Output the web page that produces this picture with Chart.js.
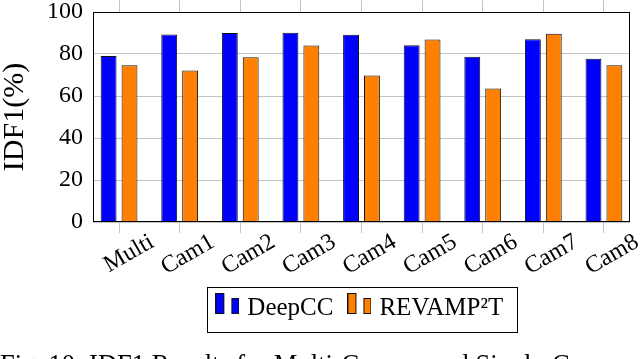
<!DOCTYPE html>
<html>
<head>
<meta charset="utf-8">
<script src="https://cdn.jsdelivr.net/npm/chart.js@4/dist/chart.umd.min.js"></script>
<style>
  html, body { margin: 0; padding: 0; background: #fff; overflow: hidden; }
  #wrap { position: relative; width: 640px; height: 359px; overflow: hidden; }
  #c { position: absolute; left: 0; top: 0; }
  #cap { position: absolute; left: 0; top: 351px; font-family: 'Liberation Serif', serif; font-size: 26.5px; line-height: 27px; white-space: nowrap; color: #000; }
</style>
</head>
<body>
<div id="wrap">
  <canvas id="c" width="640" height="359"></canvas>
  <div id="cap">Fig. 10: IDF1 Results for Multi-Camera and Single-Camera</div>
</div>
<script>
const categories = ['Multi', 'Cam1', 'Cam2', 'Cam3', 'Cam4', 'Cam5', 'Cam6', 'Cam7', 'Cam8'];
const deepCC = [79.0, 89.3, 90.0, 90.1, 89.2, 84.2, 78.7, 87.0, 77.7];
const revamp2T = [74.7, 72.2, 78.5, 84.1, 69.8, 86.9, 63.6, 89.6, 74.7];
const seriesNames = ['DeepCC', 'REVAMP\u00B2T'];
const yTicks = [0, 20, 40, 60, 80, 100];

const BLUE = '#0000ff', ORANGE = '#ff8000', GRID = '#c4c4c4';
Chart.defaults.font.family = "'Liberation Serif', 'Times New Roman', serif";
Chart.defaults.color = '#000';

function makeMarker(fill) {
  const c = document.createElement('canvas');
  c.width = 24; c.height = 30;
  const g = c.getContext('2d');
  g.fillStyle = fill; g.strokeStyle = '#111'; g.lineWidth = 1;
  g.fillRect(0.5, 0.5, 8, 20); g.strokeRect(0.5, 0.5, 8, 20);
  g.fillRect(16.5, 5.5, 7, 15); g.strokeRect(16.5, 5.5, 7, 15);
  return c;
}
const markers = [makeMarker(BLUE), makeMarker(ORANGE)];

function shiftCategory(scale) {
  scale._startValue = -0.43;
  scale._valueRange = (categories.length - 1) + 0.86;
}

const framePlugin = {
  id: 'frame',
  afterDraw(chart) {
    const a = chart.chartArea, ctx = chart.ctx;
    ctx.save();
    ctx.strokeStyle = '#000'; ctx.lineWidth = 1;
    ctx.strokeRect(Math.round(a.left) + 0.5, Math.round(a.top) + 0.5,
                   Math.round(a.right - a.left) - 1, Math.round(a.bottom - a.top) - 1);
    const lg = chart.legend;
    if (lg && lg.legendHitBoxes && lg.legendHitBoxes.length) {
      const hb = lg.legendHitBoxes;
      const first = hb[0], last = hb[hb.length - 1];
      const l = Math.round(first.left - 12.5) + 0.5;
      const r = Math.round(last.left + last.width + 14) + 0.5;
      const t = Math.round(first.top - 8.5) + 0.5;
      const b = Math.round(first.top + 36.5) + 0.5;
      ctx.strokeRect(l, t, r - l, b - t);
    }
    ctx.restore();
  }
};

new Chart(document.getElementById('c'), {
  type: 'bar',
  data: {
    labels: categories,
    datasets: [
      { label: seriesNames[0], data: deepCC, backgroundColor: BLUE, borderColor: '#111', borderWidth: 1 },
      { label: seriesNames[1], data: revamp2T, backgroundColor: ORANGE, borderColor: '#111', borderWidth: 1 }
    ]
  },
  options: {
    responsive: false,
    animation: false,
    devicePixelRatio: 1,
    layout: { padding: { top: 0, right: 10, bottom: 28.5, left: 0 } },
    datasets: { bar: { categoryPercentage: 0.69, barPercentage: 0.76 } },
    plugins: {
      tooltip: { enabled: false },
      legend: {
        position: 'bottom',
        fullSize: false,
        labels: {
          usePointStyle: true,
          pointStyleWidth: 15,
          padding: 18.5,
          font: { size: 25 },
          color: '#000',
          generateLabels(chart) {
            return chart.data.datasets.map((ds, i) => ({
              text: ds.label, pointStyle: markers[i], datasetIndex: i,
              fillStyle: ds.backgroundColor, strokeStyle: '#111', lineWidth: 1, hidden: false, fontColor: '#000'
            }));
          }
        }
      }
    },
    scales: {
      x: {
        type: 'category',
        position: 'bottom',
        offset: true,
        afterBuildTicks: shiftCategory,
        afterFit(s) { s.height = 55; },
        grid: { offset: false, drawOnChartArea: false, drawTicks: true, tickLength: 11, color: GRID },
        border: { display: false },
        ticks: { font: { size: 24, lineHeight: 1 }, minRotation: 30, maxRotation: 30, padding: -3, labelOffset: 33, autoSkip: false, color: '#000' }
      },
      x2: {
        type: 'category',
        position: 'top',
        offset: true,
        labels: categories,
        afterBuildTicks: shiftCategory,
        afterFit(s) { s.height = 12; },
        grid: { offset: false, drawOnChartArea: false, drawTicks: true, tickLength: 12, color: GRID },
        border: { display: false },
        ticks: { display: false }
      },
      y: {
        min: yTicks[0],
        max: yTicks[yTicks.length - 1],
        afterFit(s) { s.width = 93; },
        afterBuildTicks(s) { s.ticks = yTicks.map(v => ({ value: v })); },
        grid: { color: GRID, drawTicks: true, tickLength: 10, tickColor: 'rgba(0,0,0,0)' },
        border: { display: false },
        ticks: { font: { size: 24, lineHeight: 1 }, padding: 0, color: '#000' },
        title: { display: true, text: 'IDF1(%)', font: { size: 30, lineHeight: 1 }, padding: 0, color: '#000' }
      }
    }
  },
  plugins: [framePlugin]
});
</script>
</body>
</html>
